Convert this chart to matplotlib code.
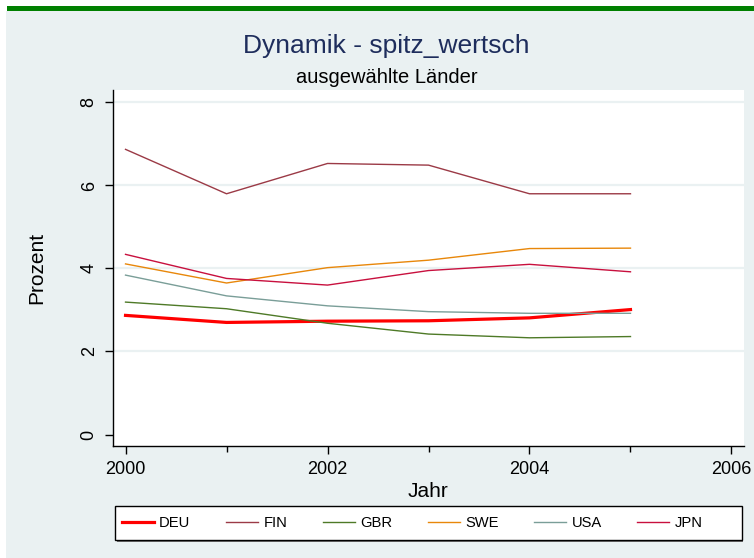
import numpy as np
import matplotlib
matplotlib.use("Agg")
import matplotlib.pyplot as plt
from matplotlib.patches import Rectangle

plt.rcParams['font.family'] = ['Liberation Sans', 'DejaVu Sans']

# Data
years = [2000, 2001, 2002, 2003, 2004, 2005]
deu = [2.87, 2.70, 2.73, 2.74, 2.81, 3.01]
fin = [6.87, 5.80, 6.53, 6.49, 5.80, 5.80]
gbr = [3.19, 3.03, 2.68, 2.42, 2.33, 2.36]
swe = [4.11, 3.65, 4.02, 4.20, 4.48, 4.49]
usa = [3.84, 3.34, 3.10, 2.96, 2.92, 2.92]
jpn = [4.34, 3.76, 3.60, 3.95, 4.10, 3.92]

countries = ['DEU', 'FIN', 'GBR', 'SWE', 'USA', 'JPN']
series = [deu, fin, gbr, swe, usa, jpn]
colors = ['#ff0000', '#9b3a46', '#4e7a27', '#e8870a', '#7a9e98', '#c8103e']
widths = [2.3, 1.0, 1.0, 1.0, 1.0, 1.0]

W, H = 754, 558
fig = plt.figure(figsize=(W / 100, H / 100), dpi=100, facecolor='white')

bg = '#eaf1f2'
# background panel and green top bar
fig.patches.append(Rectangle((6 / W, 0), 1 - 6 / W, 1 - 11 / H, transform=fig.transFigure,
                             facecolor=bg, edgecolor='none', zorder=-10))
fig.patches.append(Rectangle((7 / W, 1 - 11 / H), 1 - 7 / W, 5 / H, transform=fig.transFigure,
                             facecolor='#008000', edgecolor='none', zorder=-10))

# plot area
left, right, top, bottom = 113, 744, 90, 446
ax = fig.add_axes([left / W, 1 - bottom / H, (right - left) / W, (bottom - top) / H])
ax.set_zorder(2)
ax.set_facecolor('white')

for vals, c, lw in zip(series, colors, widths):
    ax.plot(years, vals, color=c, lw=lw, zorder=3)

ax.set_xlim(1999.876, 2006.124)
ax.set_ylim(-0.277, 8.30)

ax.set_xticks([2000, 2002, 2004, 2006])
ax.set_xticks([2001, 2003, 2005], minor=True)
ax.set_yticks([0, 2, 4, 6, 8])
for y in [2, 4, 6, 8]:
    ax.axhline(y, color='#eaf1f2', lw=1.6, zorder=1)

for s in ['top', 'right']:
    ax.spines[s].set_visible(False)
for s in ['left', 'bottom']:
    ax.spines[s].set_color('black')
    ax.spines[s].set_linewidth(1.0)

ax.tick_params(axis='both', which='major', length=6, width=1.0, color='black',
               labelsize=13, pad=5)
ax.tick_params(axis='x', which='minor', length=4, width=1.0, color='black')
plt.setp(ax.get_yticklabels(), rotation=90, va='center')

# titles
fig.text(386 / W, 1 - 53 / H, 'Dynamik - spitz_wertsch', ha='center', va='baseline',
         fontsize=19, color='#1e2d5c')
fig.text(387 / W, 1 - 83 / H, 'ausgewählte Länder', ha='center', va='baseline',
         fontsize=14.5, color='black')
fig.text(428 / W, 1 - 497 / H, 'Jahr', ha='center', va='baseline', fontsize=15)
fig.text(37 / W, 1 - 268 / H, 'Prozent', ha='center', va='center', rotation=90, fontsize=15)

# legend box with a light shadow at bottom/right
fig.patches.append(Rectangle((116.5 / W, 1 - 541.5 / H), (742 - 115) / W, 34 / H,
                             transform=fig.transFigure, facecolor='#707070',
                             edgecolor='none', zorder=0.5))
fig.patches.append(Rectangle((115 / W, 1 - 540 / H), (742 - 115) / W, 34 / H,
                             transform=fig.transFigure, facecolor='white',
                             edgecolor='black', lw=1.0, zorder=1))
handles = [plt.Line2D([], [], color=c, lw=lw) for c, lw in zip(colors, widths)]
leg = fig.legend(handles, countries, loc='center left',
                 bbox_to_anchor=(115 / W, 1 - 523 / H),
                 ncol=6, frameon=False,
                 fontsize=10.6, handlelength=2.2, handletextpad=0.35,
                 borderaxespad=0, borderpad=0.45, columnspacing=2.4)
leg.set_zorder(3)

fig.savefig('out.png', dpi=100, facecolor=fig.get_facecolor())
